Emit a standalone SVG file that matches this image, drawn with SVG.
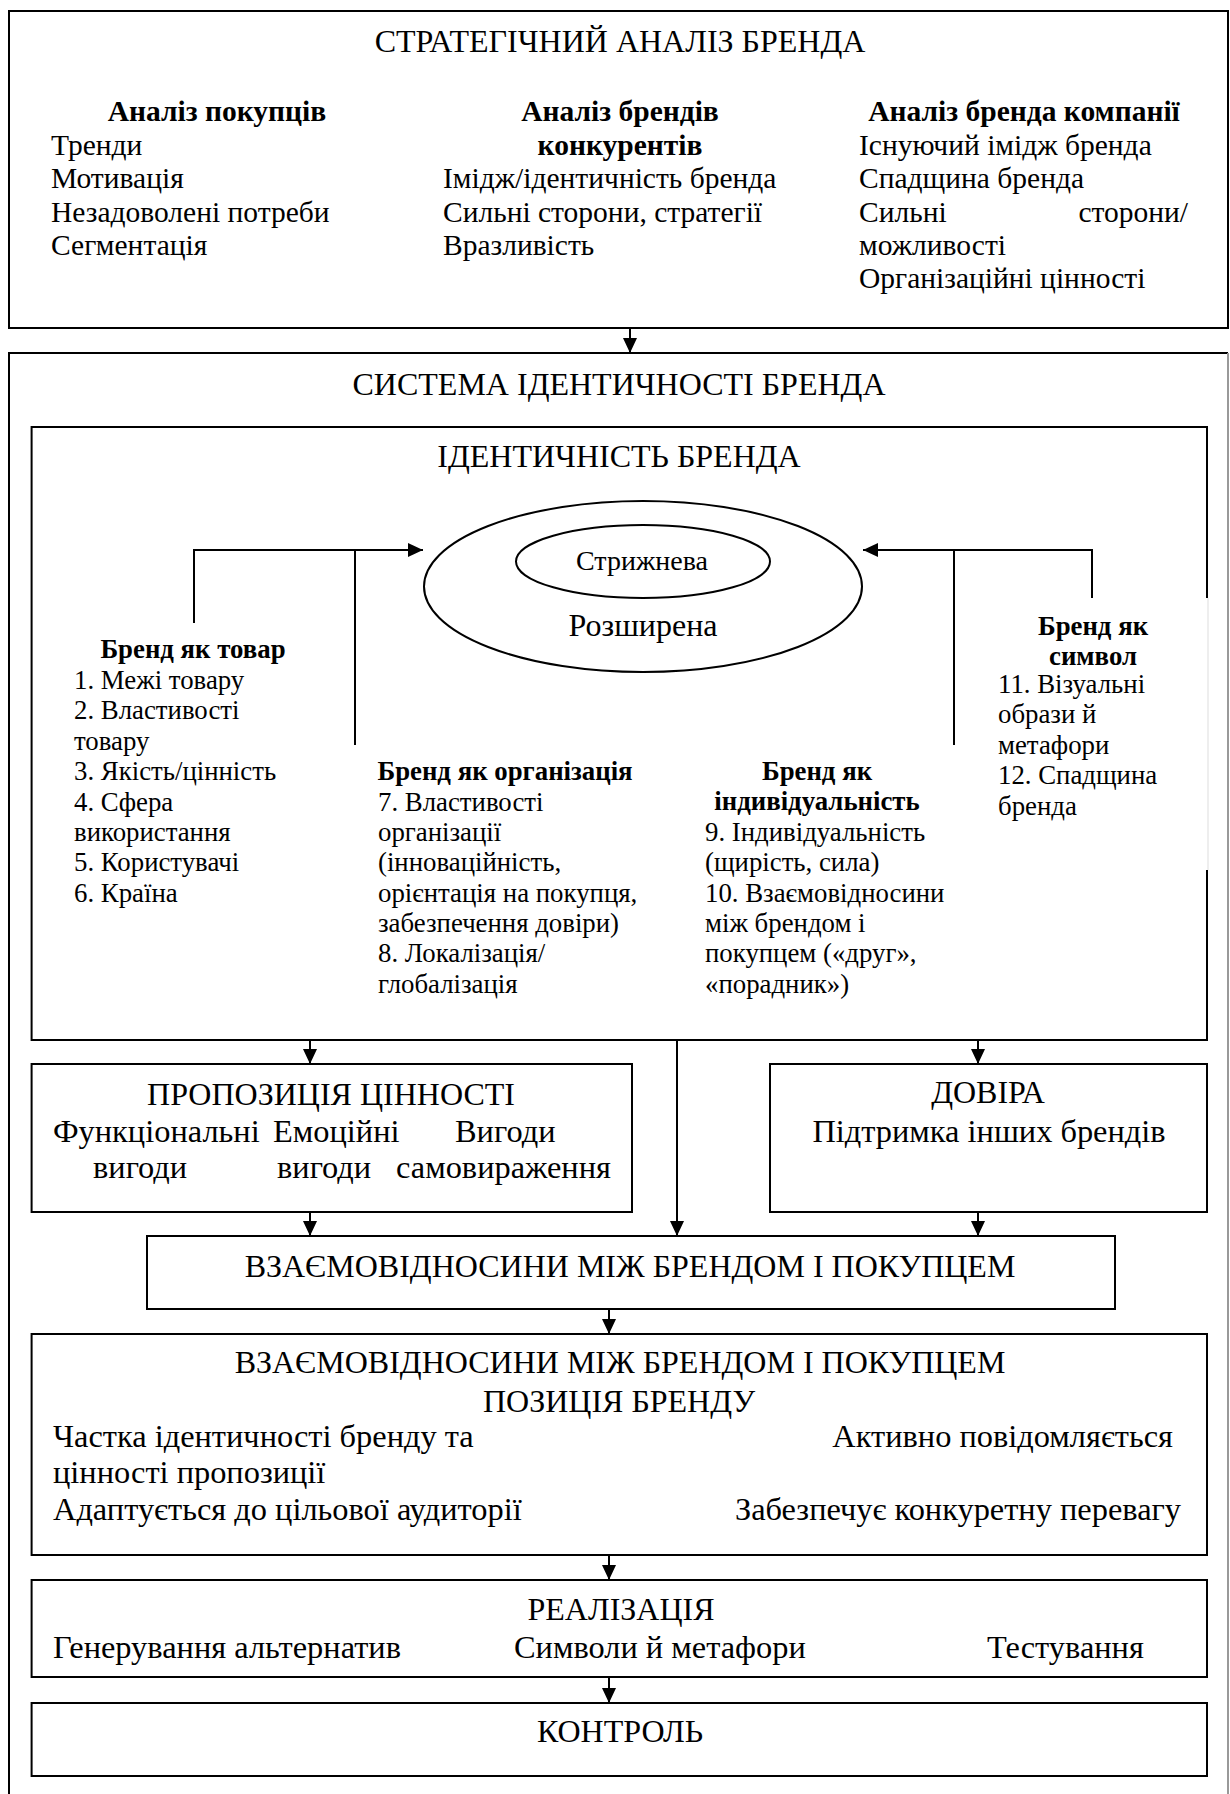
<svg xmlns="http://www.w3.org/2000/svg" width="1230" height="1794" viewBox="0 0 1230 1794">
  <defs>
    <marker id="arrow" viewBox="0 0 15 14" refX="15" refY="7" markerWidth="15" markerHeight="14" markerUnits="userSpaceOnUse" orient="auto">
      <path d="M0,0 L15,7 L0,14 z" fill="#000"/>
    </marker>
    <style>
      text { font-family: "Liberation Serif", "Times New Roman", "DejaVu Serif", serif; fill: #000; }
      .box { fill: none; stroke: #000; stroke-width: 2; }
      .edge { fill: none; stroke: #000; stroke-width: 2; }
      .title { font-size: 32px; text-anchor: middle; }
      .body { font-size: 29.5px; }
      .head { font-size: 29.5px; font-weight: bold; text-anchor: middle; }
      .small { font-size: 26.8px; }
      .smallb { font-size: 26.8px; font-weight: bold; text-anchor: middle; }
      .mid { font-size: 32.4px; }
      .c { text-anchor: middle; }
      .r { text-anchor: end; }
    </style>
  </defs>
  <rect width="1230" height="1794" fill="#fff"/>

  <!-- Strategic analysis -->
  <g id="strategic-analysis">
    <rect class="box" x="9" y="11" width="1219" height="317"/>
    <text class="title" x="620" y="52">СТРАТЕГІЧНИЙ АНАЛІЗ БРЕНДА</text>
    <text class="head" x="217" y="121">Аналіз покупців</text>
    <text class="body" x="51" y="155">Тренди</text>
    <text class="body" x="51" y="188">Мотивація</text>
    <text class="body" x="51" y="222">Незадоволені потреби</text>
    <text class="body" x="51" y="255">Сегментація</text>
    <text class="head" x="620" y="121">Аналіз брендів</text>
    <text class="head" x="620" y="155">конкурентів</text>
    <text class="body" x="443" y="188">Імідж/ідентичність бренда</text>
    <text class="body" x="443" y="222">Сильні сторони, стратегії</text>
    <text class="body" x="443" y="255">Вразливість</text>
    <text class="head" x="1024" y="121">Аналіз бренда компанії</text>
    <text class="body" x="859" y="155">Існуючий імідж бренда</text>
    <text class="body" x="859" y="188">Спадщина бренда</text>
    <text class="body" x="859" y="222">Сильні</text>
    <text class="body r" x="1188" y="222">сторони/</text>
    <text class="body" x="859" y="255">можливості</text>
    <text class="body" x="859" y="288">Організаційні цінності</text>
  </g>

  <!-- Brand identity system (open at the bottom) -->
  <g id="identity-system">
    <path class="box" d="M9,1794 V353 H1228"/>
    <line x1="1228" y1="353" x2="1228" y2="1794" stroke="#999" stroke-width="2"/>
    <text class="title" x="619" y="395">СИСТЕМА ІДЕНТИЧНОСТІ БРЕНДА</text>
  </g>

  <!-- Brand identity -->
  <g id="brand-identity">
    <path class="box" d="M1207,598 V427 H31.6 V1040 H1207 V870"/>
    <line x1="1208" y1="598" x2="1208" y2="870" stroke="#ddd" stroke-width="1"/>
    <text class="title" x="619" y="467">ІДЕНТИЧНІСТЬ БРЕНДА</text>
  </g>

  <g id="core-extended">
    <ellipse class="box" cx="643" cy="586.5" rx="219" ry="85.5"/>
    <ellipse class="box" cx="643" cy="561.5" rx="127" ry="36.5"/>
    <text class="c" x="642" y="570" font-size="28">Стрижнева</text>
    <text class="c" x="643" y="636" font-size="32">Розширена</text>
  </g>

  <g id="brand-as-product">
    <text class="smallb" x="193" y="658">Бренд як товар</text>
    <text class="small" x="74" y="689">1. Межі товару</text>
    <text class="small" x="74" y="719">2. Властивості</text>
    <text class="small" x="74" y="750">товару</text>
    <text class="small" x="74" y="780">3. Якість/цінність</text>
    <text class="small" x="74" y="811">4. Сфера</text>
    <text class="small" x="74" y="841">використання</text>
    <text class="small" x="74" y="871">5. Користувачі</text>
    <text class="small" x="74" y="902">6. Країна</text>
  </g>

  <g id="brand-as-organization">
    <text class="smallb" x="505" y="780">Бренд як організація</text>
    <text class="small" x="378" y="811">7. Властивості</text>
    <text class="small" x="378" y="841">організації</text>
    <text class="small" x="378" y="871">(інноваційність,</text>
    <text class="small" x="378" y="902">орієнтація на покупця,</text>
    <text class="small" x="378" y="932">забезпечення довіри)</text>
    <text class="small" x="378" y="962">8. Локалізація/</text>
    <text class="small" x="378" y="993">глобалізація</text>
  </g>

  <g id="brand-as-person">
    <text class="smallb" x="817" y="780">Бренд як</text>
    <text class="smallb" x="817" y="810">індивідуальність</text>
    <text class="small" x="705" y="841">9. Індивідуальність</text>
    <text class="small" x="705" y="871">(щирість, сила)</text>
    <text class="small" x="705" y="902">10. Взаємовідносини</text>
    <text class="small" x="705" y="932">між брендом і</text>
    <text class="small" x="705" y="962">покупцем («друг»,</text>
    <text class="small" x="705" y="993">«порадник»)</text>
  </g>

  <g id="brand-as-symbol">
    <text class="smallb" x="1093" y="635">Бренд як</text>
    <text class="smallb" x="1093" y="665">символ</text>
    <text class="small" x="998" y="693">11. Візуальні</text>
    <text class="small" x="998" y="723">образи й</text>
    <text class="small" x="998" y="754">метафори</text>
    <text class="small" x="998" y="784">12. Спадщина</text>
    <text class="small" x="998" y="815">бренда</text>
  </g>

  <!-- Value proposition -->
  <g id="value-proposition">
    <rect class="box" x="31.6" y="1064" width="600.4" height="148"/>
    <text class="title" x="331" y="1105">ПРОПОЗИЦІЯ ЦІННОСТІ</text>
    <text class="mid" x="53" y="1142">Функціональні</text>
    <text class="mid" x="273" y="1142">Емоційні</text>
    <text class="mid" x="455" y="1142">Вигоди</text>
    <text class="mid" x="93" y="1178">вигоди</text>
    <text class="mid" x="277" y="1178">вигоди</text>
    <text class="mid" x="396" y="1178">самовираження</text>
  </g>

  <!-- Credibility -->
  <g id="credibility">
    <rect class="box" x="770" y="1064" width="437" height="148"/>
    <text class="title" x="988" y="1103">ДОВІРА</text>
    <text class="mid c" x="989" y="1142">Підтримка інших брендів</text>
  </g>

  <g id="relationship">
    <rect class="box" x="147" y="1236" width="968" height="73"/>
    <text class="title" x="630" y="1277">ВЗАЄМОВІДНОСИНИ МІЖ БРЕНДОМ І ПОКУПЦЕМ</text>
  </g>

  <g id="brand-position">
    <rect class="box" x="31.6" y="1334" width="1175.4" height="221"/>
    <text class="title" x="620" y="1373">ВЗАЄМОВІДНОСИНИ МІЖ БРЕНДОМ І ПОКУПЦЕМ</text>
    <text class="title" x="619" y="1412">ПОЗИЦІЯ БРЕНДУ</text>
    <text class="mid" x="53" y="1447">Частка ідентичності бренду та</text>
    <text class="mid" x="53" y="1483">цінності пропозиції</text>
    <text class="mid" x="53" y="1520">Адаптується до цільової аудиторії</text>
    <text class="mid r" x="1173" y="1447">Активно повідомляється</text>
    <text class="mid r" x="1181" y="1520">Забезпечує конкуретну перевагу</text>
  </g>

  <g id="implementation">
    <rect class="box" x="31.6" y="1580" width="1175.4" height="97"/>
    <text class="title" x="621" y="1620">РЕАЛІЗАЦІЯ</text>
    <text class="mid" x="53" y="1658">Генерування альтернатив</text>
    <text class="mid" x="514" y="1658">Символи й метафори</text>
    <text class="mid" x="987" y="1658">Тестування</text>
  </g>

  <g id="control">
    <rect class="box" x="31.6" y="1703" width="1175.4" height="73"/>
    <text class="title" x="620" y="1742">КОНТРОЛЬ</text>
  </g>

  <!-- Connectors -->
  <g id="connectors">
    <line class="edge" x1="630" y1="328" x2="630" y2="353" marker-end="url(#arrow)"/>
    <path class="edge" d="M194,623 V550 H423" marker-end="url(#arrow)"/>
    <line class="edge" x1="355" y1="550" x2="355" y2="745"/>
    <path class="edge" d="M1092,598 V550 H863" marker-end="url(#arrow)"/>
    <line class="edge" x1="954" y1="550" x2="954" y2="745"/>
    <line class="edge" x1="310" y1="1040" x2="310" y2="1064" marker-end="url(#arrow)"/>
    <line class="edge" x1="978" y1="1040" x2="978" y2="1064" marker-end="url(#arrow)"/>
    <line class="edge" x1="677" y1="1040" x2="677" y2="1236" marker-end="url(#arrow)"/>
    <line class="edge" x1="310" y1="1212" x2="310" y2="1236" marker-end="url(#arrow)"/>
    <line class="edge" x1="978" y1="1212" x2="978" y2="1236" marker-end="url(#arrow)"/>
    <line class="edge" x1="609" y1="1309" x2="609" y2="1334" marker-end="url(#arrow)"/>
    <line class="edge" x1="609" y1="1555" x2="609" y2="1580" marker-end="url(#arrow)"/>
    <line class="edge" x1="609" y1="1677" x2="609" y2="1703" marker-end="url(#arrow)"/>
  </g>
</svg>
